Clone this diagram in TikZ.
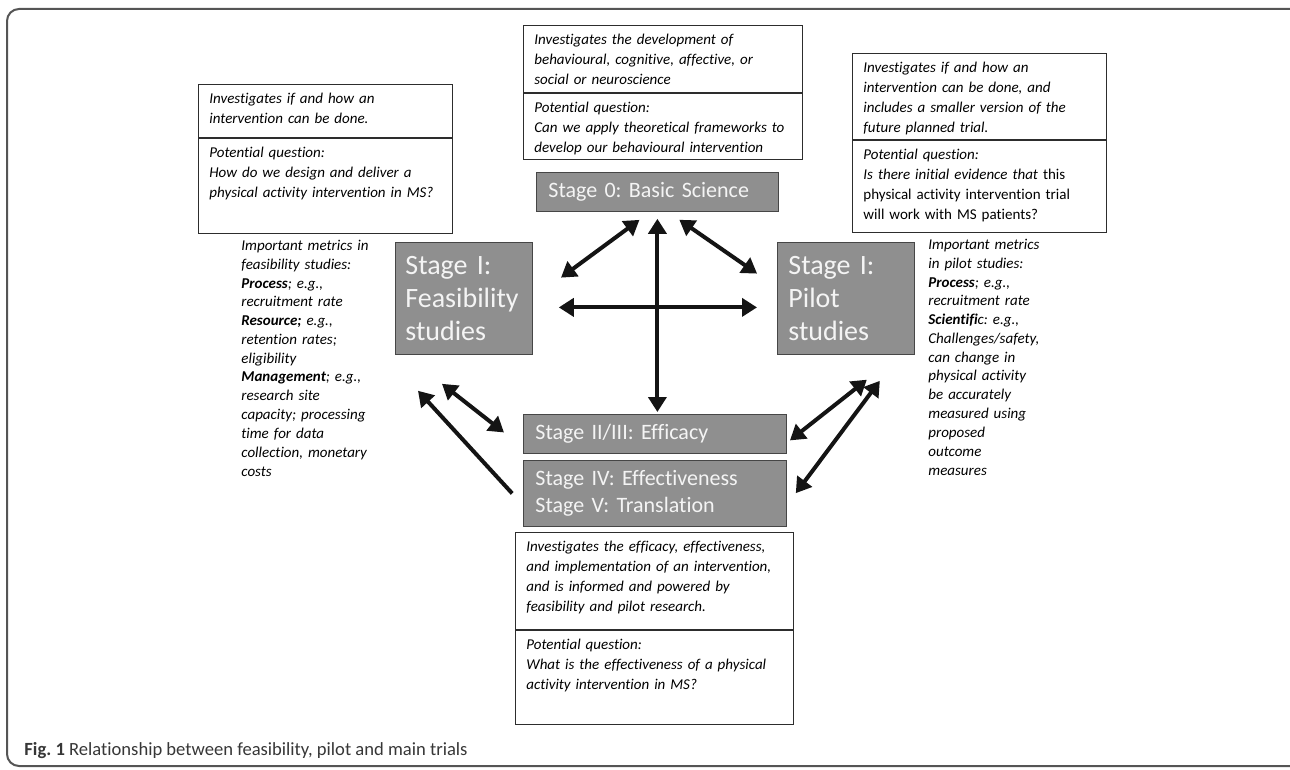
\documentclass[tikz,border=0pt]{standalone}
\usepackage{fontspec}
\setmainfont{Carlito}[Ligatures=NoCommon]
\usepackage{xcolor}
\usepackage{tikz}
\usetikzlibrary{arrows.meta,positioning}
\frenchspacing

\definecolor{stagegray}{RGB}{143,143,143}
\definecolor{stageline}{RGB}{70,70,70}
\definecolor{stagetext}{RGB}{244,244,244}
\definecolor{boxline}{RGB}{45,45,45}
\definecolor{arrowblack}{RGB}{20,20,20}
\definecolor{frameline}{RGB}{85,85,85}
\definecolor{captiongray}{RGB}{55,55,55}

\begin{document}
\begin{tikzpicture}[x=0.5pt, y=-0.5pt]
    % Define styles
    \tikzstyle{stage} = [rectangle, draw=stageline, fill=stagegray, text=stagetext, anchor=north west, align=left, inner xsep=6pt, inner ysep=0pt]
    \tikzstyle{descbox} = [rectangle, draw=boxline, fill=white, anchor=north west, align=left, inner xsep=5.5pt, inner ysep=3pt, text height=6.5pt, font=\fontsize{7.5}{10}\selectfont\itshape]
    \tikzstyle{metrics} = [anchor=north west, align=left, inner sep=0pt, text width=130pt, text height=6pt, font=\fontsize{7.5}{9.4}\selectfont\itshape]
    \tikzstyle{arr} = [line width=2pt, draw=arrowblack, {Triangle[length=7.5pt,width=9pt]}-{Triangle[length=7.5pt,width=9pt]}]
    \tikzstyle{onearr} = [line width=2pt, draw=arrowblack, -{Triangle[length=7.5pt,width=9pt]}]

    \useasboundingbox (0,0) rectangle (1290,770);
    \draw[frameline, line width=1pt, rounded corners=6pt] (7,9) rectangle (1304,766);

    % Nodes
    \node[descbox, text width=116pt, text depth=14pt] (feasdesc) at (198,84) {Investigates if and how an\\ intervention can be done.};
    \node[descbox, text width=116pt, text depth=35pt] (feasq) at (feasdesc.south west) {Potential question:\\ How do we design and deliver a\\ physical activity intervention in MS?};

    \node[descbox, text width=128.5pt, text depth=21pt] (basicdesc) at (523,25) {Investigates the development of\\ behavioural, cognitive, affective, or\\ social or neuroscience};
    \node[descbox, text width=128.5pt, text depth=20.5pt] (basicq) at (basicdesc.south west) {Potential question:\\ Can we apply theoretical frameworks to\\ develop our behavioural intervention};

    \node[descbox, text width=116pt, text depth=30.5pt] (pilotdesc) at (852,53) {Investigates if and how an\\ intervention can be done, and\\ includes a smaller version of the\\ future planned trial.};
    \node[descbox, text width=116pt, text depth=33.5pt] (pilotq) at (pilotdesc.south west) {Potential question:\\ Is there initial evidence that \textup{this}\\ \textup{physical activity intervention trial}\\ \textup{will work with MS patients?}};

    \node[stage, text width=109pt, minimum height=19.5pt, font=\fontsize{11}{13}\selectfont] (basic) at (536,172) {Stage 0: Basic Science};
    \node[stage, text width=58.5pt, minimum height=56pt, inner xsep=5pt, font=\fontsize{14}{16.5}\selectfont] (feas) at (395,242) {Stage I:\\ Feasibility\\ studies};
    \node[stage, text width=57.5pt, minimum height=56pt, inner xsep=5.5pt, font=\fontsize{14}{16.5}\selectfont] (pilot) at (777,242) {Stage I:\\ Pilot\\ studies};
    \node[stage, text width=119.5pt, minimum height=19.5pt, font=\fontsize{11}{13}\selectfont] (eff) at (523,414) {Stage II/III: Efficacy};
    \node[stage, text width=119.5pt, minimum height=33pt, font=\fontsize{11}{13.5}\selectfont, below=3pt of eff.south west, anchor=north west] (eff2) {Stage IV: Effectiveness\\ Stage V: Translation};

    \node[descbox, text width=128pt, text depth=36pt] (effdesc) at (515,532) {Investigates the efficacy, effectiveness,\\ and implementation of an intervention,\\ and is informed and powered by\\ feasibility and pilot research.};
    \node[descbox, text width=128pt, text depth=34.5pt] (effq) at (effdesc.south west) {Potential question:\\ What is the effectiveness of a physical\\ activity intervention in MS?};

    \node[metrics] (feasmetrics) at (241,238) {Important metrics in\\ feasibility studies:\\ \textbf{Process}; e.g.,\\ recruitment rate\\ \textbf{Resource;} e.g.,\\ retention rates;\\ eligibility\\ \textbf{Management}; e.g.,\\ research site\\ capacity; processing\\ time for data\\ collection, monetary\\ costs};
    \node[metrics] (pilotmetrics) at (928,237) {Important metrics\\ in pilot studies:\\ \textbf{Process}; e.g.,\\ recruitment rate\\ \textbf{Scientifi}c: e.g.,\\ Challenges/safety,\\ can change in\\ physical activity\\ be accurately\\ measured using\\ proposed\\ outcome\\ measures};

    \node[anchor=base west, inner sep=0pt, text=captiongray, font=\fontsize{9.3}{11}\selectfont] (caption) at (24,755) {\textbf{Fig. 1} Relationship between feasibility, pilot and main trials};

    % Connections
    \draw[arr, shorten <=6.8pt, shorten >=17.5pt] ([xshift=-3.5pt]basic.south) -- (feas.east);
    \draw[arr, shorten <=3.5pt, shorten >=1pt] (basic.south) -- (basic.south |- eff.north);
    \draw[arr, shorten <=7pt, shorten >=12.1pt] ([xshift=5.2pt]basic.south) -- ([yshift=5.5pt]pilot.west);
    \draw[arr, shorten <=13pt, shorten >=10pt] ([yshift=-4.5pt]feas.east) -- ([yshift=-4.5pt]pilot.west);
    \draw[arr, shorten <=23.5pt, shorten >=12.1pt] ([xshift=5pt]feas.south west) -- ([yshift=-6.75pt]eff.west);
    \draw[onearr, shorten <=8pt, shorten >=24.4pt] ([yshift=-6pt]eff2.west) -- ([xshift=-5pt]feas.south west);
    \draw[arr, shorten <=2pt, shorten >=20.1pt] ([yshift=-4.5pt]eff.east) -- ([xshift=-8.2pt]pilot.south east);
    \draw[arr, shorten <=7.5pt, shorten >=16.25pt] ([yshift=-6pt]eff2.east) -- ([xshift=-7.75pt]pilot.south east);
\end{tikzpicture}
\end{document}
